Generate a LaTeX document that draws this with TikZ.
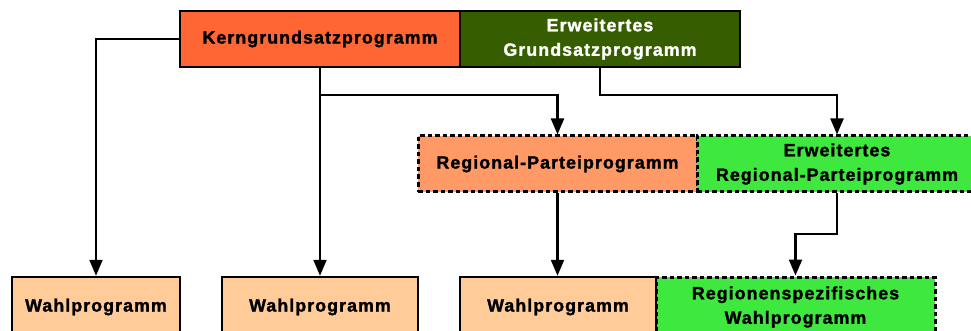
\documentclass[tikz,border=0pt]{standalone}
\usepackage{fontspec}
\setmainfont{Liberation Sans}
\newfontfamily\boxfont{Liberation Sans Bold}[LetterSpace=6, FakeBold=1.6]
\usetikzlibrary{arrows.meta}
\definecolor{kerncol}{HTML}{FF6633}
\definecolor{darkgreen}{HTML}{365E00}
\definecolor{regcol}{HTML}{FF9966}
\definecolor{brightgreen}{HTML}{3EE83E}
\definecolor{wahlcol}{HTML}{FFCC99}
\begin{document}
\begin{tikzpicture}[x=1pt,y=-1pt,
  boxbase/.style={rectangle, inner sep=0pt, align=center,
    font=\boxfont\fontsize{17.8}{24.5}\selectfont},
  solidbox/.style={boxbase, draw=black, line width=2.5pt},
  dashbox/.style={boxbase, draw=black, line width=3pt, dash pattern=on 4.5pt off 3pt},
  arr/.style={draw=black, line width=2.2pt, -{Triangle[width=13pt,length=16pt]}}]
\clip (0,0) rectangle (971,331);
\fill[white] (0,0) rectangle (971,331);
% top row
\node[solidbox, fill=kerncol, minimum width=280pt, minimum height=56pt] (kern) at (320,39) {Kerngrundsatzprogramm};
\node[solidbox, fill=darkgreen, text=white, minimum width=280pt, minimum height=56pt] (erwgs) at (600,39) {Erweitertes\\Grundsatzprogramm};
% middle row
\node[dashbox, fill=regcol, minimum width=279pt, minimum height=56pt] (regional) at (557.5,164) {Regional-Parteiprogramm};
\node[dashbox, fill=brightgreen, minimum width=280pt, minimum height=56pt] (erwreg) at (837,164) {Erweitertes\\Regional-Parteiprogramm};
% bottom row
\node[dashbox, fill=brightgreen, minimum width=279pt, minimum height=60pt] (regspez) at (795.5,307) {Regionenspezifisches\\Wahlprogramm};
\node[solidbox, fill=wahlcol, minimum width=168pt, minimum height=60pt] (wahlA) at (96,307) {Wahlprogramm};
\node[solidbox, fill=wahlcol, minimum width=196pt, minimum height=60pt] (wahlB) at (320,307) {Wahlprogramm};
\node[solidbox, fill=wahlcol, minimum width=196pt, minimum height=60pt] (wahlC) at (558,307) {Wahlprogramm};
% helper coordinates
\coordinate (lvlA) at (0,95);
\coordinate (lvlB) at (0,234);
% connectors
\draw[arr] (kern.west) -| (wahlA.north);
\draw[arr] (kern.south) -- (kern.south |- wahlB.north);
\draw[arr] (kern.south) |- (lvlA -| regional.north) -- (regional.north);
\draw[arr] (erwgs.south) |- (lvlA -| erwreg.north) -- (erwreg.north);
\draw[arr] (regional.south) -- (regional.south |- wahlC.north);
\draw[arr] (erwreg.south) |- (lvlB -| regspez.north) -- (regspez.north);
\end{tikzpicture}
\end{document}
